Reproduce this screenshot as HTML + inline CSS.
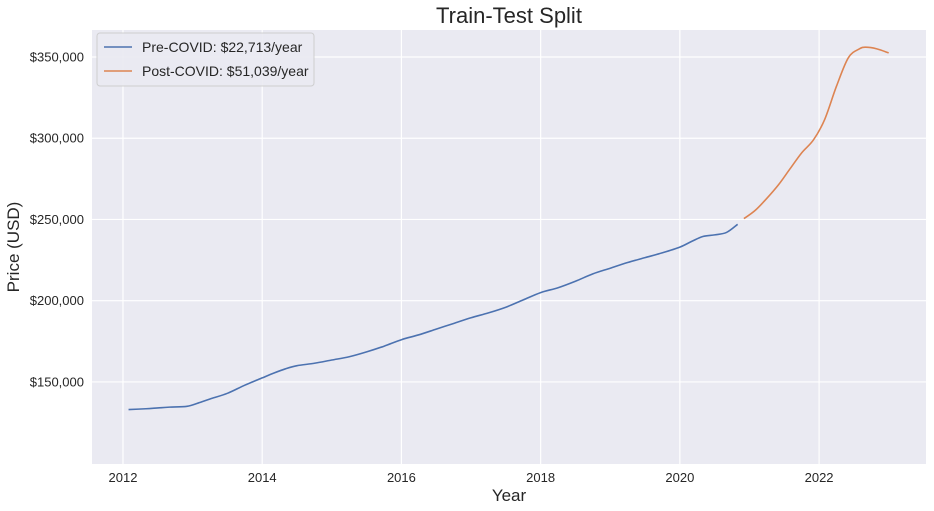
<!DOCTYPE html>
<html><head><meta charset="utf-8"><style>
html,body{margin:0;padding:0;background:#fff;}
svg{display:block;font-family:"Liberation Sans",Arial,sans-serif;}
</style></head><body>
<svg id="chart" width="934" height="511">
<rect x="92" y="30" width="834" height="434" fill="#eaeaf2"/>
<g id="grid"></g>
<g id="lines"></g>
<g id="ticks" fill="#262626" font-size="13"></g>
<text x="509" y="23" text-anchor="middle" font-size="22" fill="#262626">Train-Test Split</text>
<text x="509" y="501" text-anchor="middle" font-size="17" fill="#262626">Year</text>
<text transform="translate(19,247) rotate(-90)" text-anchor="middle" font-size="17" fill="#262626">Price (USD)</text>
<g>
<rect x="97" y="33" width="217" height="53" rx="3" fill="#eaeaf2" stroke="#cccccc" opacity="0.9"/>
<g>
<line x1="104" y1="47" x2="132" y2="47" stroke="#4c72b0" stroke-width="1.6"/>
<text x="142" y="52" font-size="14" fill="#262626">Pre-COVID: $22,713/year</text>
</g>
<g>
<line x1="104" y1="71" x2="132" y2="71" stroke="#dd8452" stroke-width="1.6"/>
<text x="142" y="76" font-size="14" fill="#262626">Post-COVID: $51,039/year</text>
</g>
</g>
</svg>
<script>
const preYears=[2012.08,2012.33,2012.5,2012.67,2012.92,2013.08,2013.25,2013.5,2013.75,2014.0,2014.17,2014.33,2014.5,2014.75,2015.0,2015.25,2015.5,2015.75,2016.0,2016.25,2016.5,2016.75,2017.0,2017.25,2017.5,2017.75,2018.0,2018.25,2018.5,2018.75,2019.0,2019.25,2019.5,2019.75,2020.0,2020.17,2020.33,2020.5,2020.67,2020.83];
const preValues=[133000,133500,134000,134500,135000,137000,139500,143000,148000,152500,155500,158000,160000,161500,163500,165500,168500,172000,176000,179000,182500,186000,189500,192500,196000,200500,205000,208000,212000,216500,220000,223500,226500,229500,233000,236500,239500,240500,242000,247000];
const postYears=[2020.92,2021.08,2021.25,2021.42,2021.58,2021.75,2021.92,2022.08,2022.25,2022.42,2022.58,2022.67,2022.83,2023.0];
const postValues=[250500,255500,263000,271500,281000,291000,299000,311500,332000,349500,355000,356000,355000,352500];
const yTicks=[150000,200000,250000,300000,350000];
const xTicks=[2012,2014,2016,2018,2020,2022];
const X=v=>92+(v-2011.555)*(834/(2023.536-2011.555));
const Y=v=>464-(v-99500)*(434/(366600-99500));
const ns="http://www.w3.org/2000/svg";
const grid=document.getElementById('grid'),ticks=document.getElementById('ticks'),lines=document.getElementById('lines');
function mk(t,a,p){const e=document.createElementNS(ns,t);for(const k in a)e.setAttribute(k,a[k]);p.appendChild(e);return e;}
yTicks.forEach(v=>{
const l=mk('line',{x1:92,x2:926,y1:Y(v),y2:Y(v),stroke:'#fff','stroke-width':1.2},grid);


const t=mk('text',{x:84,y:Y(v)+4.5,'text-anchor':'end'},ticks);
t.textContent='$'+v.toLocaleString('en-US');


});
xTicks.forEach(v=>{
const l=mk('line',{x1:X(v),x2:X(v),y1:30,y2:464,stroke:'#fff','stroke-width':1.2},grid);


const t=mk('text',{x:X(v),y:482,'text-anchor':'middle'},ticks);
t.textContent=v;


});
function path(xs,ys){
const p=xs.map((x,i)=>[X(x),Y(ys[i])]);
let d='M'+p[0][0]+','+p[0][1];
for(let i=0;i<p.length-1;i++){
const p0=p[i-1]||p[i],p1=p[i],p2=p[i+1],p3=p[i+2]||p2;
const c1=[p1[0]+(p2[0]-p0[0])/6,p1[1]+(p2[1]-p0[1])/6],c2=[p2[0]-(p3[0]-p1[0])/6,p2[1]-(p3[1]-p1[1])/6];
d+=' C'+c1+' '+c2+' '+p2;}
return d;}
const a=mk('path',{d:path(preYears,preValues),fill:'none',stroke:'#4c72b0','stroke-width':1.6},lines);


const b=mk('path',{d:path(postYears,postValues),fill:'none',stroke:'#dd8452','stroke-width':1.6},lines);


</script>
</body></html>
